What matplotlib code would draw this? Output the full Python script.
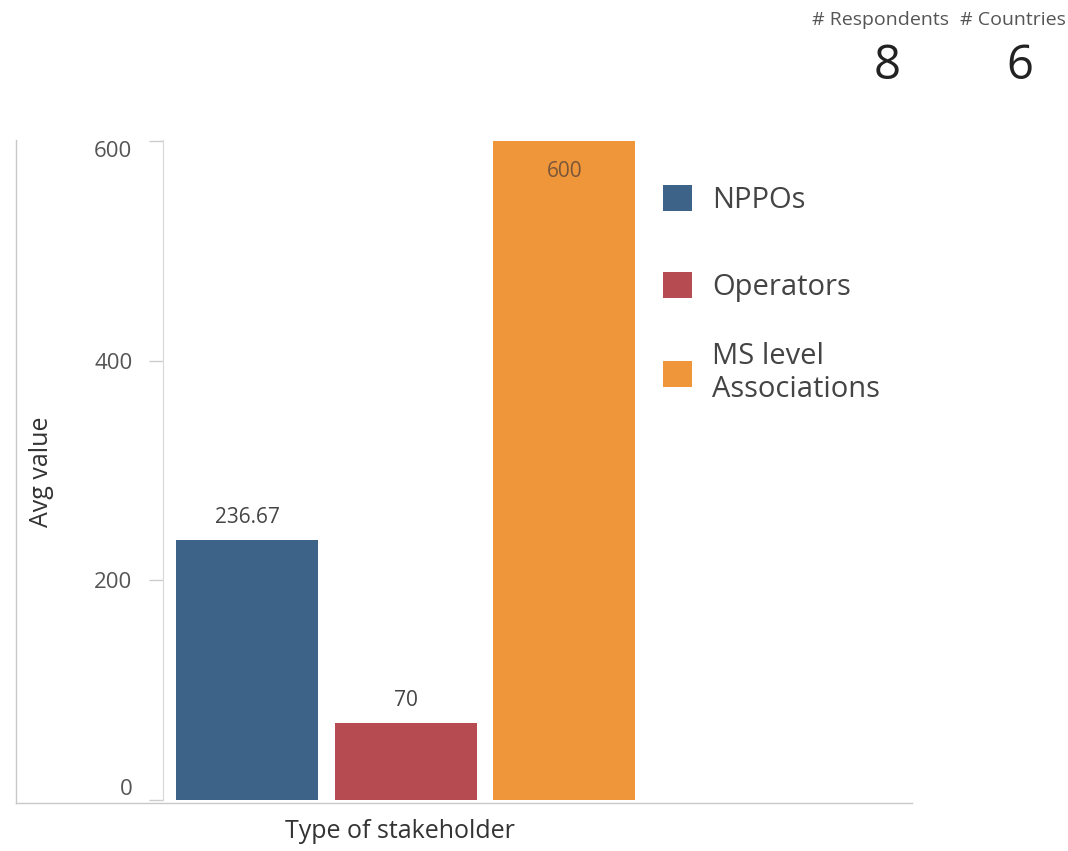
import matplotlib
matplotlib.use("Agg")
import matplotlib.pyplot as plt
from matplotlib.patches import Patch
from matplotlib.lines import Line2D

# data
stakeholders = ["NPPOs", "Operators", "MS level\nAssociations"]
avg_values = [236.67, 70, 600]
value_labels = ["236.67", "70", "600"]
colors = ["#3d6488", "#b64c52", "#f0963a"]
yticks = [0, 200, 400, 600]
n_respondents = 8
n_countries = 6

plt.rcParams['font.family'] = ['Open Sans', 'DejaVu Sans']

W, H = 1068, 851
fig = plt.figure(figsize=(W / 100, H / 100), dpi=100)

def fx(px): return px / W
def fy(py): return 1 - py / H

ax = fig.add_axes([fx(163), fy(800), fx(912) - fx(163), fy(140) - fy(800)])

xs = list(range(len(avg_values)))
ax.bar(xs, avg_values, width=0.895, color=colors)
ax.set_xlim(-0.53, 4.19)
ax.set_ylim(0, 601)

for x, v, lab in zip(xs, avg_values, value_labels):
    if v > 580:
        ax.text(x, v - 18, lab, ha='center', va='top', fontsize=15, color='#7a5638')
    else:
        ax.text(x, v + 11, lab, ha='center', va='bottom', fontsize=15, color='#444444')

ax.set_yticks(yticks)
ax.set_yticklabels([str(t) for t in yticks])
ax.tick_params(axis='y', length=10, width=1, color='#cccccc', labelcolor='#555555',
               labelsize=16, pad=12)
ax.tick_params(axis='x', bottom=False, labelbottom=False)
tl = ax.get_yticklabels()
tl[0].set_va('bottom')
tl[-1].set_va('top')
for s in ['top', 'right', 'bottom']:
    ax.spines[s].set_visible(False)
ax.spines['left'].set_color('#d8d8d8')

# outer frame lines (left and bottom)
fig.add_artist(Line2D([fx(16), fx(16)], [fy(140), fy(803)], color='#c8c8c8', lw=1))
fig.add_artist(Line2D([fx(16), fx(912)], [fy(803), fy(803)], color='#c8c8c8', lw=1))

fig.text(fx(42), fy(472), "Avg value", rotation=90, ha='center', va='center',
         fontsize=18, color='#333333')
fig.text(fx(400), fy(832), "Type of stakeholder", ha='center', va='center',
         fontsize=18, color='#333333')

# legend: one row per entry, rows sit in fixed slots like the original dashboard
row_y = [200, 287, 373]
for c, lab, y in zip(colors, stakeholders, row_y):
    fig.legend([Patch(facecolor=c)], [lab], loc='center left',
               bbox_to_anchor=(fx(637), fy(y)), frameon=False, fontsize=21,
               handlelength=1.0, handleheight=1.0, handletextpad=0.68,
               labelcolor='#444444')

# summary counters top right
fig.text(fx(880), fy(20), "# Respondents", ha='center', va='center', fontsize=14, color='#555555')
fig.text(fx(1013), fy(20), "# Countries", ha='center', va='center', fontsize=14, color='#555555')
fig.text(fx(887), fy(66), str(n_respondents), ha='center', va='center', fontsize=34, color='#222222')
fig.text(fx(1020), fy(66), str(n_countries), ha='center', va='center', fontsize=34, color='#222222')

fig.savefig("out.png", dpi=100)
